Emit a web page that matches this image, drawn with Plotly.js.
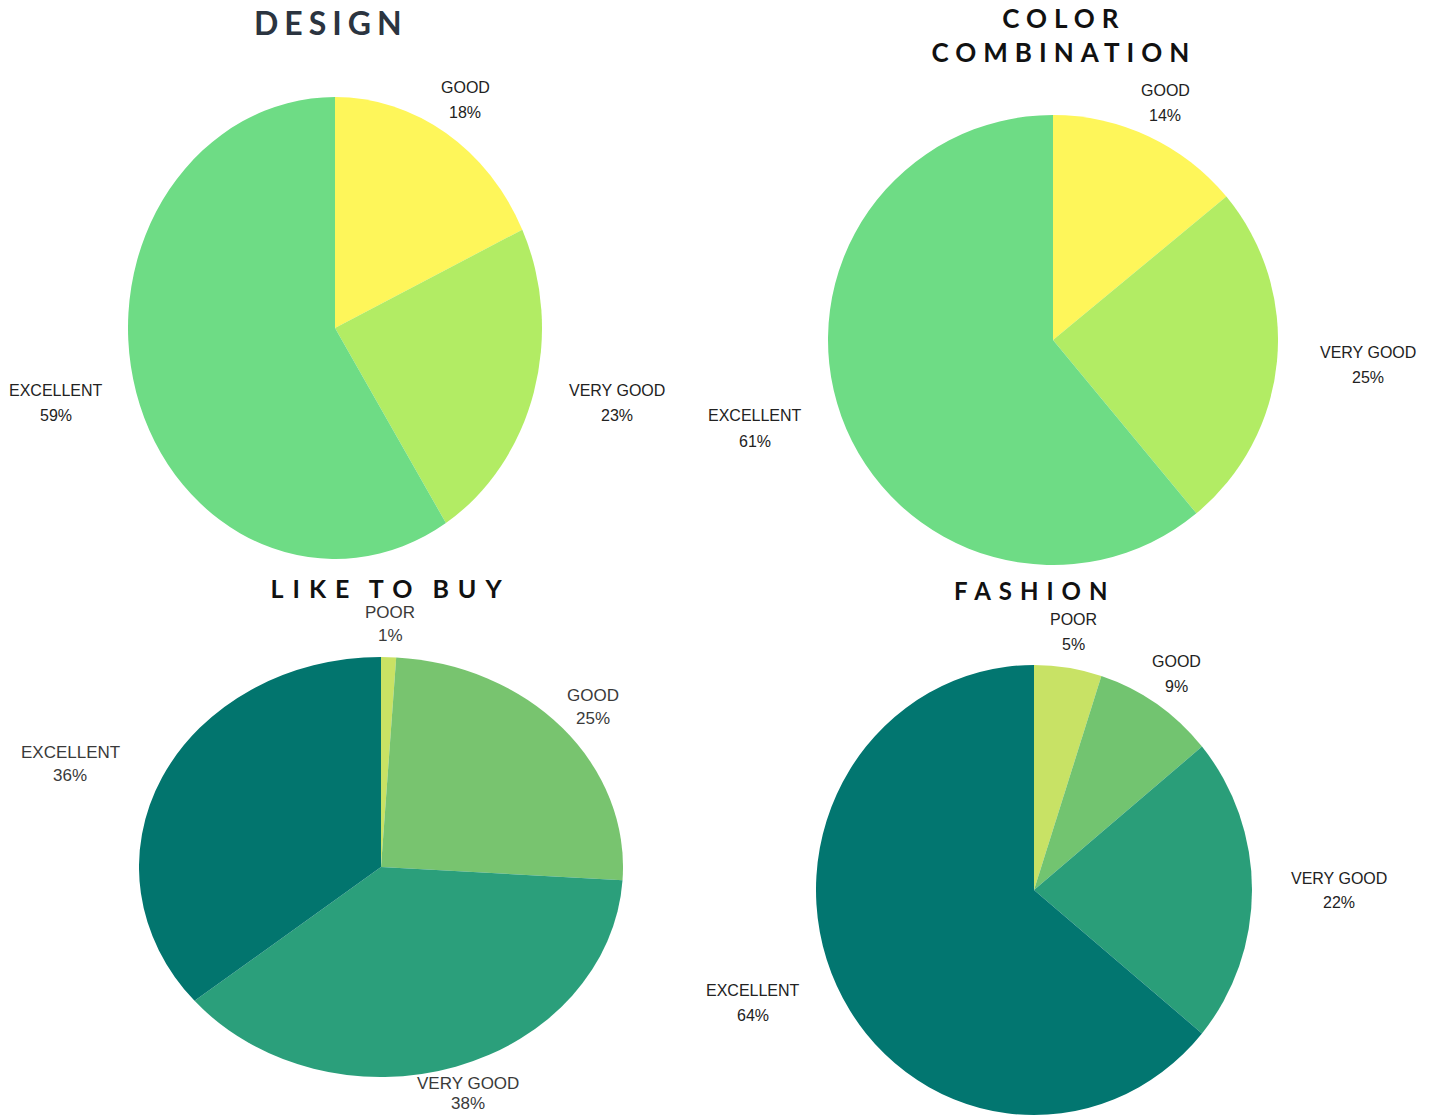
<!DOCTYPE html>
<html>
<head>
<meta charset="utf-8">
<script src="https://cdn.plot.ly/plotly-3.0.1.min.js"></script>
<style>
  html, body { margin: 0; padding: 0; background: #ffffff; }
  #page { position: relative; width: 1437px; height: 1116px; overflow: hidden; }
  #base { position: absolute; left: 0; top: 0; width: 1437px; height: 1116px; }
  .pie { position: absolute; transform-origin: 50% 50%; }
</style>
</head>
<body>
<div id="page">
  <div id="base"></div>
  <div id="pieDesign" class="pie"></div>
  <div id="pieColor" class="pie"></div>
  <div id="pieBuy" class="pie"></div>
  <div id="pieFashion" class="pie"></div>
</div>
<script>
// ---------------- DATA ----------------
const chartTitles = ['DESIGN', 'COLOR<br>COMBINATION', 'LIKE TO BUY', 'FASHION'];

const designLabels = ['GOOD', 'VERY GOOD', 'EXCELLENT'];
const designValues = [18, 23, 59];

const colorLabels = ['GOOD', 'VERY GOOD', 'EXCELLENT'];
const colorValues = [14, 25, 61];

const buyLabels = ['POOR', 'GOOD', 'VERY GOOD', 'EXCELLENT'];
const buyValues = [1, 25, 38, 36];

const fashionLabels = ['POOR', 'GOOD', 'VERY GOOD', 'EXCELLENT'];
const fashionValues = [5, 9, 22, 64];

// ---------------- STYLE / LAYOUT ----------------
const W = 1437, H = 1116;
const px = x => x / W;
const py = y => 1 - y / H;

// labelPos entries: [x, y of name line, gap to percent line]
const charts = [
  { id: 'pieDesign', labels: designLabels, values: designValues,
    colors: ['#FEF65A', '#B2EC64', '#6EDC85'],
    cx: 335, cy: 328, rx: 207, ry: 231,
    title: { x: 331, y: 22, size: 32, color: '#2b3440', spacing: 6 },
    labelFont: { size: 16, color: '#222222' },
    labelPos: [[465, 88, 25], [617, 390, 25], [56, 390, 25]] },
  { id: 'pieColor', labels: colorLabels, values: colorValues,
    colors: ['#FEF65A', '#B2EC64', '#6EDC85'],
    cx: 1053, cy: 340, rx: 225, ry: 225,
    title: { x: 1064, y: 35, size: 26, color: '#111111', spacing: 7 },
    labelFont: { size: 16, color: '#222222' },
    labelPos: [[1165, 91, 25], [1368, 352, 25], [755, 416, 25]] },
  { id: 'pieBuy', labels: buyLabels, values: buyValues,
    colors: ['#C9E264', '#78C46F', '#2B9F7B', '#02756E'],
    cx: 381, cy: 867, rx: 242, ry: 210,
    title: { x: 391, y: 588, size: 25, color: '#111111', spacing: 9 },
    labelFont: { size: 17, color: '#3a3a3a' },
    labelPos: [[390, 612, 23], [593, 695, 23], [468, 1083, 20], [70, 752, 23]] },
  { id: 'pieFashion', labels: fashionLabels, values: fashionValues,
    colors: ['#C8E265', '#72C470', '#2A9E79', '#027670'],
    cx: 1034, cy: 890, rx: 218, ry: 225,
    title: { x: 1034, y: 590, size: 24, color: '#111111', spacing: 8 },
    labelFont: { size: 16, color: '#222222' },
    labelPos: [[1073, 619, 25], [1176, 661, 25], [1339, 878, 25], [753, 990, 25]] }
];

// ---------------- TEXT LAYER ----------------
const annotations = [];
charts.forEach((c, i) => {
  annotations.push({
    xref: 'paper', yref: 'paper', x: px(c.title.x), y: py(c.title.y),
    xanchor: 'center', yanchor: 'middle', showarrow: false,
    text: chartTitles[i],
    font: { family: 'Lato', size: c.title.size, color: c.title.color, weight: 700 }
  });
  c.labels.forEach((lab, j) => {
    const [lx, ly, gap] = c.labelPos[j];
    const f = { family: 'Liberation Sans, Arial, sans-serif', size: c.labelFont.size, color: c.labelFont.color };
    annotations.push({
      xref: 'paper', yref: 'paper', x: px(lx), y: py(ly),
      xanchor: 'center', yanchor: 'middle', showarrow: false,
      text: lab, font: f
    });
    annotations.push({
      xref: 'paper', yref: 'paper', x: px(lx), y: py(ly + gap),
      xanchor: 'center', yanchor: 'middle', showarrow: false,
      text: c.values[j] + '%', font: f
    });
  });
});

Plotly.newPlot('base', [], {
  width: W, height: H,
  margin: { l: 0, r: 0, t: 0, b: 0 },
  paper_bgcolor: '#ffffff', plot_bgcolor: '#ffffff',
  xaxis: { visible: false }, yaxis: { visible: false },
  showlegend: false,
  annotations: annotations
}, { staticPlot: true, displayModeBar: false }).then(() => {
  const spacingByText = {};
  charts.forEach((c, i) => { spacingByText[chartTitles[i].replace('<br>', '')] = c.title.spacing; });
  document.querySelectorAll('#base .annotation-text').forEach(t => {
    const key = t.textContent.replace(/\s+/g, '');
    for (const k in spacingByText) {
      if (key === k.replace(/\s+/g, '')) {
        t.style.letterSpacing = spacingByText[k] + 'px';
        t.style.wordSpacing = '-4px';
      }
    }
  });
});

// ---------------- PIES ----------------
charts.forEach(c => {
  const D = 2 * c.rx;
  const el = document.getElementById(c.id);
  el.style.left = (c.cx - c.rx) + 'px';
  el.style.top = (c.cy - c.rx) + 'px';
  el.style.width = D + 'px';
  el.style.height = D + 'px';
  el.style.transform = 'scale(1,' + (c.ry / c.rx) + ')';
  Plotly.newPlot(c.id, [{
    type: 'pie',
    labels: c.labels,
    values: c.values,
    sort: false,
    direction: 'clockwise',
    rotation: 0,
    textinfo: 'none',
    hoverinfo: 'skip',
    marker: { colors: c.colors, line: { width: 0 } },
    domain: { x: [0, 1], y: [0, 1] }
  }], {
    width: D, height: D,
    margin: { l: 0, r: 0, t: 0, b: 0 },
    paper_bgcolor: 'rgba(0,0,0,0)',
    showlegend: false
  }, { staticPlot: true, displayModeBar: false });
});
</script>
</body>
</html>
